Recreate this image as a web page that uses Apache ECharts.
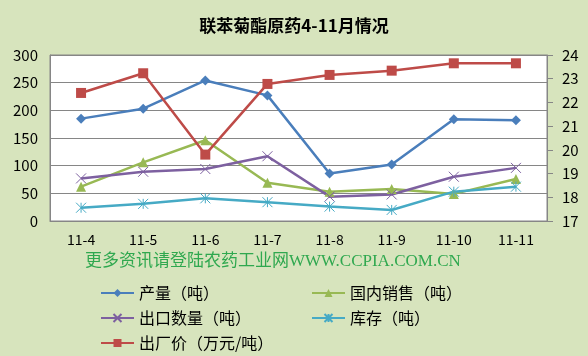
<!DOCTYPE html>
<html><head><meta charset="utf-8">
<script src="https://cdn.jsdelivr.net/npm/echarts@6/dist/echarts.min.js"></script>
<style>html,body{margin:0;padding:0;background:#D7E4BD;}#c{width:588px;height:356px;}</style>
</head><body><div id="c"></div>
<script>
const categories = ['11-4','11-5','11-6','11-7','11-8','11-9','11-10','11-11'];
const production = [185, 203, 254, 227, 86, 102, 184, 182];
const domestic = [62, 106, 146, 69, 53, 58, 49, 76];
const exportQty = [77, 89, 94, 117, 44, 48, 80, 96];
const stock = [24, 31, 41, 34, 26, 20, 53, 62];
const price = [22.4, 23.23, 19.8, 22.78, 23.16, 23.34, 23.65, 23.65];
const leftTicks = [0, 300, 50];
const rightTicks = [17, 24, 1];

const chart = echarts.init(document.getElementById('c'));
const font = '"Noto Sans CJK SC", "Noto Sans", sans-serif';
const names = ['产量（吨）','国内销售（吨）','出口数量（吨）','库存（吨）','出厂价（万元/吨）'];
function legendAt(name, left, top){
  return {data:[name], left:left, top:top, itemWidth:33, itemHeight:10, itemGap:0,
    textStyle:{fontFamily:font, fontSize:16, color:'#000'}};
}
chart.setOption({
  backgroundColor:'#D7E4BD',
  animation:false,
  title:{text:'联苯菊酯原药4-11月情况', left:'center', top:12,
    textStyle:{fontFamily:font, fontSize:17, fontWeight:'bold', color:'#000'}},
  grid:{left:50, right:41, top:55, bottom:135, show:true, backgroundColor:'#fff', borderColor:'#868686', borderWidth:1},
  legend:[
    legendAt(names[0], 95, 280),
    legendAt(names[1], 306, 280),
    legendAt(names[2], 95, 305),
    legendAt(names[3], 306, 305),
    legendAt(names[4], 95, 330)
  ],
  graphic:[{type:'text', left:85, top:253,
    style:{text:'更多资讯请登陆农药工业网WWW.CCPIA.COM.CN', fill:'#2FA84F',
      font:'17px "Liberation Serif", "Noto Sans CJK SC", serif'}}],
  xAxis:{type:'category', data:categories, boundaryGap:true,
    axisLine:{lineStyle:{color:'#868686'}}, axisTick:{show:false},
    axisLabel:{fontFamily:font, fontSize:14, color:'#000', margin:12}},
  yAxis:[
    {type:'value', min:leftTicks[0], max:leftTicks[1], interval:leftTicks[2],
     axisLine:{show:true, lineStyle:{color:'#868686'}}, axisTick:{show:false},
     splitLine:{lineStyle:{color:'#868686'}},
     axisLabel:{fontFamily:font, fontSize:15, color:'#000', margin:12}},
    {type:'value', min:rightTicks[0], max:rightTicks[1], interval:rightTicks[2], position:'right',
     axisLine:{show:true, lineStyle:{color:'#868686'}}, axisTick:{show:true, length:6, lineStyle:{color:'#868686'}},
     splitLine:{show:false},
     axisLabel:{fontFamily:font, fontSize:15, color:'#000', margin:15}}
  ],
  series:[
    {name:names[0], type:'line', data:production, symbol:'diamond', symbolSize:10,
     itemStyle:{color:'#4A7EBB'}, lineStyle:{width:2.5, color:'#4A7EBB'}},
    {name:names[1], type:'line', data:domestic, symbol:'triangle', symbolSize:10,
     itemStyle:{color:'#98B954'}, lineStyle:{width:2.5, color:'#98B954'}},
    {name:names[2], type:'line', data:exportQty, symbol:'path://M0,0L10,10M10,0L0,10', symbolSize:10,
     itemStyle:{color:'#7D60A0', borderColor:'#7D60A0', borderWidth:1}, lineStyle:{width:2.5, color:'#7D60A0'}},
    {name:names[3], type:'line', data:stock, symbol:'path://M0,0L10,10M10,0L0,10M5,0L5,10', symbolSize:10,
     itemStyle:{color:'#46AAC5', borderColor:'#46AAC5', borderWidth:1}, lineStyle:{width:2.5, color:'#46AAC5'}},
    {name:names[4], type:'line', yAxisIndex:1, data:price, symbol:'rect', symbolSize:10,
     itemStyle:{color:'#BE4B48'}, lineStyle:{width:2.5, color:'#BE4B48'}}
  ]
});
</script></body></html>
